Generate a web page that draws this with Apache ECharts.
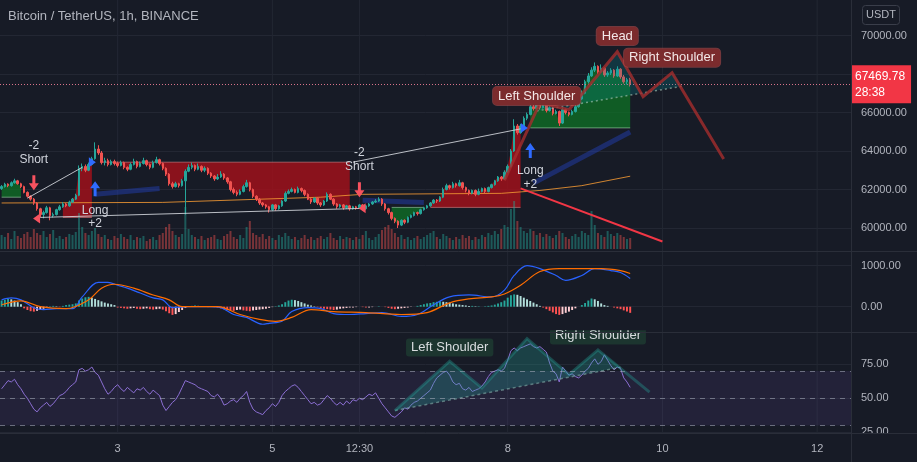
<!DOCTYPE html>
<html><head><meta charset="utf-8">
<script src="https://cdn.jsdelivr.net/npm/echarts@6/dist/echarts.min.js"></script>
<style>html,body{margin:0;padding:0;background:#171b26;}#c{width:917px;height:462px;}</style>
</head><body><div id="c"></div>
<script>
const title = 'Bitcoin / TetherUS, 1h, BINANCE';
const currency = 'USDT';
const countdown = '28:38';
const slotCount = 264;
const tickIdx = [36, 84, 111, 157, 205, 253];
const tickText = ['3', '5', '12:30', '8', '10', '12'];

// [open, close, low, high]
const candles = [
[62050,62150,61980,62230],[62150,62280,62100,62350],[62280,62200,62120,62320],[62200,62350,62150,62420],[62350,62450,62300,62560],
[62450,62300,62250,62500],[62300,62150,62080,62350],[62150,61850,61800,62200],[61850,61650,61580,61900],[61650,61500,61420,61700],
[61500,61300,61200,61560],[61300,61000,60900,61350],[61000,60700,60550,61050],[60700,60800,60500,60900],[60800,61050,60750,61150],
[61050,60650,60400,61100],[60650,60700,60550,60800],[60700,60950,60650,61000],[60950,61100,60900,61200],[61100,61250,61050,61350],
[61250,61150,61080,61300],[61150,61350,61100,61420],[61350,61500,61300,61560],[61500,61700,61450,61780],[61700,63100,61650,63250],
[63100,63200,62950,63350],[63200,63000,62900,63300],[63000,63300,62950,63400],[63300,63600,63250,63700],[63600,64100,63550,64450],
[64100,63900,63800,64300],[63900,63400,63300,64000],[63400,63500,63250,63650],[63500,63300,63200,63600],[63300,63450,63250,63550],
[63450,63350,63250,63550],[63350,63250,63150,63450],[63250,63400,63200,63500],[63400,63150,63050,63450],[63150,63050,62950,63200],
[63050,63300,63000,63400],[63300,63450,63250,63600],[63450,63200,63100,63500],[63200,63350,63150,63450],[63350,63500,63300,63650],
[63500,63300,63200,63550],[63300,63150,63050,63350],[63150,63400,63100,63500],[63400,63550,63350,63700],[63550,63350,63250,63600],
[63350,63100,63000,63400],[63100,62800,62700,63150],[62800,62300,62200,62850],[62300,62150,62050,62400],[62150,62300,62100,62400],
[62300,62200,62100,62350],[62200,62450,62150,62550],[62450,62950,60700,63050],[62950,63150,62900,63300],[63150,63250,63050,63400],
[63250,63050,62950,63300],[63050,63200,63000,63350],[63200,63000,62900,63250],[63000,63100,62900,63200],[63100,62850,62750,63150],
[62850,62700,62600,62900],[62700,62550,62450,62750],[62550,62650,62500,62800],[62650,62800,62600,62950],[62800,62600,62500,62850],
[62600,62400,62300,62650],[62400,62000,61900,62450],[62000,61850,61750,62100],[61850,61750,61650,61950],[61750,61900,61700,62000],
[61900,62150,61850,62250],[62150,62350,62100,62500],[62350,62000,61900,62400],[62000,61650,61550,62050],[61650,61500,61400,61700],
[61500,61300,61200,61550],[61300,61200,61100,61350],[61200,61100,61000,61250],[61100,60950,60800,61150],[60950,61200,60900,61250],
[61200,61000,60900,61250],[61000,61150,60950,61200],[61150,61400,61100,61450],[61400,61800,61350,61900],[61800,61900,61750,62000],
[61900,62000,61850,62100],[62000,61850,61800,62050],[61850,62050,61800,62150],[62050,61950,61850,62100],[61950,61750,61650,62000],
[61750,61500,61450,61800],[61500,61350,61250,61550],[61350,61550,61300,61600],[61550,61300,61200,61600],[61300,61200,61100,61350],
[61200,61400,61150,61450],[61400,61750,61350,61850],[61750,61500,61450,61800],[61500,61250,61150,61550],[61250,61100,61000,61300],
[61100,61200,61050,61250],[61200,61050,60950,61250],[61050,61150,61000,61200],[61150,61000,60900,61200],[61000,61100,60950,61150],
[61100,61050,60950,61150],[61050,61200,61000,61250],[61200,61000,60900,61250],[61000,61150,60950,61200],[61150,61250,61100,61300],
[61250,61350,61200,61400],[61350,61400,61300,61500],[61400,61500,61350,61600],[61500,61250,61150,61550],[61250,61000,60900,61300],
[61000,60800,60700,61050],[60800,60500,60400,60850],[60500,60350,60250,60550],[60350,60150,60000,60400],[60150,60400,60100,60450],
[60400,60300,60200,60450],[60300,60550,60250,60600],[60550,60650,60500,60700],[60650,60800,60600,60850],[60800,60750,60650,60850],
[60750,60950,60700,61000],[60950,61050,60900,61100],[61050,61150,61000,61200],[61150,61300,61100,61350],[61300,61450,61250,61500],
[61450,61400,61300,61500],[61400,61600,61350,61650],[61600,62000,61550,62100],[62000,62200,61950,62300],[62200,62100,62000,62250],
[62100,62300,62050,62400],[62300,62200,62100,62350],[62200,62350,62150,62500],[62350,62100,62000,62400],[62100,61950,61850,62150],
[61950,61800,61700,62000],[61800,61950,61750,62000],[61950,61750,61650,62000],[61750,61900,61700,62050],[61900,62050,61850,62100],
[62050,61900,61800,62100],[61900,62100,61850,62150],[62100,62250,62050,62300],[62250,62450,62200,62500],[62450,62650,62400,62700],
[62650,62550,62450,62700],[62550,62900,62500,63000],[62900,63200,62850,63300],[63200,64000,63150,64100],[64000,65300,63950,65650],
[65300,64950,64850,65400],[64950,65300,64900,65400],[65300,65700,65250,65800],[65700,65900,65600,66000],[65900,66300,65850,66450],
[66300,66200,66100,66400],[66200,66400,66150,66550],[66400,66250,66150,66450],[66250,66500,66200,66600],[66500,66100,66000,66550],
[66100,66250,66050,66350],[66250,65950,65850,66300],[65950,66050,65900,66150],[66050,65450,65300,66100],[65450,66150,65400,66250],
[66150,66000,65900,66200],[66000,65900,65800,66050],[65900,66050,65850,66150],[66050,66300,66000,66400],[66300,66700,66250,66800],
[66700,67000,66650,67150],[67000,67600,66950,67700],[67600,67900,67500,68050],[67900,68200,67850,68350],[68200,68400,68100,68600],
[68400,68100,68000,68450],[68100,68300,68050,68500],[68300,67950,67850,68350],[67950,68050,67850,68150],[68050,68200,67950,68300],
[68200,67900,67800,68250],[67900,68250,67850,68400],[68250,67850,67750,68300],[67850,67600,67500,67950],[67600,67700,67450,67800],
[67700,67469.78,67350,67800]
];

const volumes = [
14,12,16,10,18,13,11,15,17,12, 20,16,14,18,12,15,19,11,13,10,
12,15,14,17,36,22,16,14,18,21, 15,12,14,10,9,13,11,15,12,10,
14,9,12,11,13,8,10,12,9,14, 16,22,25,18,14,12,15,42,20,14,
12,10,13,9,11,12,14,10,9,13, 15,18,12,10,14,11,22,28,16,14,
12,15,10,13,11,9,14,12,16,13, 10,12,9,11,14,10,12,9,11,13,
10,12,16,11,9,13,10,12,11,9, 12,10,14,18,11,9,12,15,19,22,
24,20,16,12,14,10,12,9,11,13, 10,12,14,16,18,12,10,15,13,11,
9,12,10,14,11,13,9,12,10,14, 12,16,14,18,15,20,24,22,40,48,
28,22,18,16,20,18,14,16,12,15, 13,11,14,18,16,12,10,13,15,12,
18,16,14,38,24,16,14,12,18,15, 13,16,14,12,10,11
];

// MACD key points [barIndex, value]
const macdPts = [[0,167],[3,214],[6,167],[10,-24],[13,-71],[17,-48],[22,-48],[25,238],[30,595],[33,595],[36,524],[39,452],[43,333],[47,214],[50,167],[53,-24],[58,0],[64,0],[68,-24],[72,-190],[76,-262],[81,-428],[83,-405],[87,-357],[90,-119],[95,-24],[99,-48],[103,-167],[108,-190],[113,-167],[118,-143],[124,-238],[129,-190],[134,48],[139,238],[145,286],[152,238],[156,405],[159,762],[163,1000],[167,929],[172,762],[175,643],[180,762],[184,929],[189,881],[192,833],[195,690]];
const signalPts = [[0,48],[6,143],[12,0],[20,-48],[27,167],[31,452],[35,548],[41,452],[47,286],[52,167],[56,0],[67,0],[74,-190],[80,-310],[85,-357],[90,-262],[96,-71],[103,-119],[113,-143],[124,-190],[132,-143],[139,95],[145,190],[152,238],[156,310],[161,524],[167,857],[173,929],[180,929],[186,929],[192,881],[195,810]];
const histVals = [
150,170,190,180,150,110,60,
-40,-80,-110,-120,-100,-80,-50,-20,
10,20,10,-10,
20,40,50,60,80,
150,200,230,240,220,190,160,130,
100,80,60,40,
-20,-30,-40,-50,-40,-30,-50,-60,-50,-40,-60,-70,-60,-50,-70,
-110,-160,-200,-180,-130,-80,
-30,10,20,30,20,10,0,-10,0,-10,
-20,-40,-60,-80,-90,-100,-80,-70,-90,-100,-110,-90,-80,-70,-60,-50,
-30,-10,10,30,
60,110,150,170,160,140,110,80,50,30,
10,-10,-30,-50,-60,-70,
-80,-70,-50,-40,
-30,-20,-20,-10,0,-10,-20,-20,-10,0,10,0,-10,-30,-50,-60,-50,-40,-30,-20,-10,0,
20,40,60,80,90,110,120,130,120,110,100,
80,60,50,40,30,20,20,10,10,0,10,20,30,50,80,110,
150,220,280,300,290,260,220,180,140,100,60,
20,-20,-60,-100,-140,-180,-200,-180,-150,-120,
-80,-40,0,40,90,150,200,180,140,80,
40,20,0,-20,-40,-60,-90,-120,-150
];
const rsiVals = [
57,60,63,62,64,60,57,53,50,46, 42,40,43,45,47,44,46,49,52,53,
55,58,60,62,71,72,70,71,73,69, 67,62,57,53,55,58,60,57,55,58,
56,54,57,56,58,55,53,56,54,52, 45,41,44,47,49,53,58,63,62,61,
60,58,57,56,55,52,51,53,50,45, 46,48,49,47,50,52,55,47,42,40,
39,38,41,43,46,44,47,52,55,57, 59,60,58,55,52,49,46,47,45,46,
49,52,50,47,45,47,45,48,46,49, 48,50,49,51,53,52,54,50,46,43,
40,37,36,38,40,43,42,45,47,48, 50,52,54,56,61,65,67,69,70,67,
62,60,61,57,56,58,55,56,57,59, 62,66,69,70,71,70,72,78,85,87,
85,87,88,89,90,88,87,88,86,84, 76,70,68,62,73,70,67,68,66,65,
67,70,72,76,79,75,77,82,78,74, 71,73,72,65,62,58
];

// strategy zones [fromBar, toBar, level]
const zones = [[0,6,61600],[19,28,60550],[31,108,63420],[121,131,61070],[133,161,61070],[164,195,65200]];
const zoneKinds = ['g','r','r','g','r','g'];
const emaLine = [[0,61300],[50,61330],[99,61600],[112,61750],[155,61800],[167,61950],[180,62200],[195,62690]];
const blueBands = [[[29,61750],[49,62050]],[[112,61440],[131,61330]],[[165,62330],[195,64990]]];
const tradeLines = [[[8,61550],[25,63150]],[[12,60550],[112,61020]],[[109,63420],[161,65150]]];
const redTrend = [[161,62060],[205,59300]];
const hsMain = [[156,62480],[167,66500],[176,66140],[191,69160],[199,66820],[208,68070],[224,63580]];
const hsMainFill = [[166,66080],[167,66500],[176,66140],[191,69160],[199,66820],[208,68070],[211,67360]];
const hsMainNeck = [[166,66080],[211,67360]];
const hsMainLabels = [[166,66860,'Left Shoulder'],[191,69970,'Head'],[208,68850,'Right Shoulder']];
const shortMarks = [[10,61960,64260,63530],[111,61600,63890,63160]];
const longMarks = [[29,62430,60920,60240],[164,64420,63000,62270]];
const triMarks = [[28,63420,'R'],[162,65200,'R'],[11,60500,'L'],[112,61020,'L']];
const hsRsi = [[122,41],[139,77.3],[149,57.6],[163,93.9],[176,67.4],[185,85.6],[201,54.5]];
const hsRsiFill = [[122,41],[139,77.3],[149,57.6],[163,93.9],[176,67.4],[185,85.6],[192,72.8]];
const hsRsiNeck = [[122,41],[192,72.8]];
const hsRsiLabels = [[139,87.4,'Left Shoulder'],[185,96.2,'Right Shoulder']];

const chart = echarts.init(document.getElementById('c'), null, {renderer: 'canvas'});
const cats = Array.from({length: slotCount}, (_, i) => String(i));
const GRID = '#232733', SEP = '#2a2e39', TXT = '#b2b5be', FONT = 'Liberation Sans';
const UP = '#26a69a', DOWN = '#ef5350';
const lastPrice = candles[candles.length - 1][1];
const lblStyle = {color: TXT, fontSize: 11, fontFamily: FONT};

function xAx(gi, labels) {
  return {type: 'category', gridIndex: gi, data: cats, boundaryGap: true,
    axisLine: {show: false}, axisTick: {show: false}, splitLine: {show: false},
    axisLabel: labels ? Object.assign({}, lblStyle, {margin: 11,
      interval: (idx) => tickIdx.includes(idx),
      formatter: (v) => { const k = tickIdx.indexOf(Number(v)); return k >= 0 ? tickText[k] : ''; }}) : {show: false}};
}
function yAx(gi, min, max, interval, opts) {
  opts = opts || {};
  return {type: 'value', gridIndex: gi, position: 'right', min, max, interval,
    show: opts.hidden ? false : true,
    axisLine: {show: false}, axisTick: {show: false},
    axisLabel: Object.assign({}, lblStyle, {margin: 10, showMinLabel: opts.minLabel || false, showMaxLabel: false,
      formatter: (v) => v.toFixed(2)}),
    splitLine: {show: !opts.hidden, lineStyle: {color: GRID, width: 1}, showMinLine: opts.minLine || false, showMaxLine: false}};
}
const gridBase = {left: 0, right: 66, outerBoundsMode: 'none', containLabel: false};

function P(api, arr) { return arr.map(p => api.coord(p)); }

function underLayer(params, api) {
  const ch = [];
  zones.forEach((z, k) => {
    const [i0, i1, level] = z;
    const pts = [];
    for (let i = i0; i <= i1; i++) pts.push(api.coord([i, candles[i][1]]));
    const a = api.coord([i1, level]), b = api.coord([i0, level]);
    pts.push(a); pts.push(b);
    const red = zoneKinds[k] === 'r';
    ch.push({type: 'polygon', shape: {points: pts}, style: {fill: red ? 'rgba(168,16,26,0.8)' : 'rgba(14,118,38,0.72)'}});
    ch.push({type: 'line', shape: {x1: b[0], y1: b[1], x2: a[0], y2: a[1]},
      style: {stroke: red ? 'rgba(255,170,170,0.45)' : 'rgba(190,240,200,0.5)', lineWidth: 1}});
  });
  blueBands.forEach(l => {
    const a = api.coord(l[0]), b = api.coord(l[1]);
    ch.push({type: 'line', shape: {x1: a[0], y1: a[1], x2: b[0], y2: b[1]}, style: {stroke: 'rgba(36,70,200,0.42)', lineWidth: 5}});
  });
  ch.push({type: 'polyline', shape: {points: P(api, emaLine)}, style: {stroke: 'rgba(240,150,50,0.85)', lineWidth: 1, fill: null}});
  return {type: 'group', children: ch};
}

function textEl(x, y, t, size) {
  return {type: 'text', x, y, style: {text: t, fill: '#d1d4dc', fontSize: size || 12, fontFamily: FONT, align: 'center', verticalAlign: 'middle'}};
}

function topLayer(params, api) {
  const ch = [];
  tradeLines.forEach(l => {
    const a = api.coord(l[0]), b = api.coord(l[1]);
    ch.push({type: 'line', shape: {x1: a[0], y1: a[1], x2: b[0], y2: b[1]}, style: {stroke: 'rgba(215,218,225,0.85)', lineWidth: 1}});
  });
  const r = P(api, redTrend);
  ch.push({type: 'line', shape: {x1: r[0][0], y1: r[0][1], x2: r[1][0], y2: r[1][1]}, style: {stroke: '#f23645', lineWidth: 2}});
  ch.push({type: 'polygon', shape: {points: P(api, hsMainFill)}, style: {fill: 'rgba(0,150,165,0.22)'}});
  const nk = P(api, hsMainNeck);
  ch.push({type: 'line', shape: {x1: nk[0][0], y1: nk[0][1], x2: nk[1][0], y2: nk[1][1]}, style: {stroke: 'rgba(170,200,185,0.6)', lineWidth: 1.5, lineDash: [2, 3]}});
  ch.push({type: 'polyline', shape: {points: P(api, hsMain)}, style: {stroke: 'rgba(165,45,45,0.8)', lineWidth: 3, fill: null}});
  hsMainLabels.forEach(([i, p, t]) => {
    const c = api.coord([i, p]);
    ch.push({type: 'text', x: c[0], y: c[1], style: {text: t, fill: '#f3e7e7', fontSize: 13, fontFamily: FONT, align: 'center', verticalAlign: 'middle',
      backgroundColor: '#7b2b2d', borderColor: 'rgba(190,80,80,0.55)', borderWidth: 1, borderRadius: 4, padding: [3, 5, 2, 5]}});
  });
  shortMarks.forEach(([i, tip, t1, t2]) => {
    const c = api.coord([i, tip]), x = c[0], y = c[1];
    ch.push({type: 'polygon', shape: {points: [[x-1.5,y-15],[x+1.5,y-15],[x+1.5,y-7],[x+5,y-7],[x,y],[x-5,y-7],[x-1.5,y-7]]}, style: {fill: '#f7525f'}});
    const a = api.coord([i, t1]), b = api.coord([i, t2]);
    ch.push(textEl(a[0], a[1], '-2'));
    ch.push(textEl(b[0], b[1], 'Short'));
  });
  longMarks.forEach(([i, tip, t1, t2]) => {
    const c = api.coord([i, tip]), x = c[0], y = c[1];
    ch.push({type: 'polygon', shape: {points: [[x-1.5,y+15],[x+1.5,y+15],[x+1.5,y+7],[x+5,y+7],[x,y],[x-5,y+7],[x-1.5,y+7]]}, style: {fill: '#2f6bff'}});
    const a = api.coord([i, t1]), b = api.coord([i, t2]);
    ch.push(textEl(a[0], a[1], 'Long'));
    ch.push(textEl(b[0], b[1], '+2'));
  });
  triMarks.forEach(([i, p, d]) => {
    const c = api.coord([i, p]), x = c[0], y = c[1];
    const pts = d === 'R' ? [[x-3,y-5],[x+4,y],[x-3,y+5]] : [[x+3,y-5],[x-4,y],[x+3,y+5]];
    ch.push({type: 'polygon', shape: {points: pts}, style: {fill: d === 'R' ? '#2f6bff' : '#f7525f'}});
  });
  return {type: 'group', children: ch};
}

function rsiLayer(params, api) {
  const ch = [];
  ch.push({type: 'polygon', shape: {points: P(api, hsRsiFill)}, style: {fill: 'rgba(38,166,154,0.28)'}});
  const nk = P(api, hsRsiNeck);
  ch.push({type: 'line', shape: {x1: nk[0][0], y1: nk[0][1], x2: nk[1][0], y2: nk[1][1]}, style: {stroke: 'rgba(150,200,190,0.5)', lineWidth: 1.5, lineDash: [3, 3]}});
  ch.push({type: 'polyline', shape: {points: P(api, hsRsi)}, style: {stroke: 'rgba(38,166,154,0.35)', lineWidth: 3, fill: null}});
  hsRsiLabels.forEach(([i, v, t]) => {
    const c = api.coord([i, v]);
    ch.push({type: 'text', x: c[0], y: c[1], style: {text: t, fill: '#d8dcdf', fontSize: 13, fontFamily: FONT, align: 'center', verticalAlign: 'middle',
      backgroundColor: '#1c352f', borderRadius: 3, padding: [3, 5, 2, 5]}});
  });
  return {type: 'group', children: ch};
}

function vLines(params, api) {
  const c = api.coord([api.value(0), 0]);
  const cs = params.coordSys;
  return {type: 'line', shape: {x1: c[0], y1: cs.y, x2: c[0], y2: cs.y + cs.height}, style: {stroke: GRID, lineWidth: 1}};
}

const histColors = histVals.map((v, i) => {
  const p = i > 0 ? histVals[i - 1] : v;
  if (v >= 0) return v >= p ? '#26a69a' : '#b2dfdb';
  return v < p ? '#ff5252' : '#ffcdd2';
});

const option = {
  backgroundColor: '#171b26',
  animation: false,
  grid: [
    Object.assign({top: -3, height: 269.5}, gridBase),
    Object.assign({top: 189, height: 60}, gridBase),
    Object.assign({top: 224.7, height: 123}, gridBase),
    Object.assign({top: 330.3, height: 102}, gridBase),
    Object.assign({top: 0, height: 433}, gridBase)
  ],
  xAxis: [xAx(0, false), xAx(1, false), xAx(2, false), xAx(3, true), xAx(4, false)],
  yAxis: [
    yAx(0, 58000, 72000, 2000),
    yAx(1, 0, 60, 20, {hidden: true}),
    yAx(2, -1000, 2000, 1000),
    yAx(3, 25, 100, 25, {minLabel: true, minLine: true}),
    yAx(4, 0, 1, 1, {hidden: true})
  ],
  series: [
    {type: 'custom', xAxisIndex: 4, yAxisIndex: 4, z: 0, silent: true, data: tickIdx.map(i => [i, 0]), renderItem: vLines},
    {type: 'custom', xAxisIndex: 0, yAxisIndex: 0, z: 1, silent: true, data: [[0, 60000]], renderItem: underLayer},
    {type: 'bar', xAxisIndex: 1, yAxisIndex: 1, z: 1, silent: true, barWidth: '62%',
      data: volumes.map((v, i) => ({value: v, itemStyle: {color: candles[i][1] >= candles[i][0] ? 'rgba(38,166,154,0.45)' : 'rgba(239,83,80,0.45)'}}))},
    {type: 'candlestick', xAxisIndex: 0, yAxisIndex: 0, z: 3, silent: true, data: candles, barWidth: '62%',
      itemStyle: {color: UP, color0: DOWN, borderColor: UP, borderColor0: DOWN, borderWidth: 1},
      markLine: {silent: true, symbol: ['none', 'none'], data: [{yAxis: lastPrice}],
        lineStyle: {type: [1, 2], color: '#d9738a', width: 1},
        label: {show: true, position: 'end', distance: 0, formatter: () => lastPrice.toFixed(2) + '\n' + countdown,
          backgroundColor: '#f23645', color: '#ffffff', padding: [3, 6, 3, 4], fontSize: 12, lineHeight: 16, fontFamily: FONT, align: 'left'}}},
    {type: 'custom', xAxisIndex: 0, yAxisIndex: 0, z: 5, silent: true, data: [[0, 60000]], renderItem: topLayer},
    {type: 'bar', xAxisIndex: 2, yAxisIndex: 2, z: 2, silent: true, barWidth: '60%',
      data: histVals.map((v, i) => ({value: v, itemStyle: {color: histColors[i]}}))},
    {type: 'line', xAxisIndex: 2, yAxisIndex: 2, z: 3, silent: true, data: macdPts, showSymbol: false, smooth: 0.35, lineStyle: {color: '#2962ff', width: 1.2}},
    {type: 'line', xAxisIndex: 2, yAxisIndex: 2, z: 3, silent: true, data: signalPts, showSymbol: false, smooth: 0.35, lineStyle: {color: '#ff6d00', width: 1.2}},
    {type: 'line', xAxisIndex: 3, yAxisIndex: 3, z: 3, silent: true, data: rsiVals, showSymbol: false, lineStyle: {color: '#8c6fd4', width: 1},
      markArea: {silent: true, itemStyle: {color: 'rgba(126,87,194,0.12)'}, data: [[{yAxis: 30}, {yAxis: 70}]]},
      markLine: {silent: true, symbol: ['none', 'none'], label: {show: false}, lineStyle: {color: 'rgba(170,174,190,0.55)', type: [5, 5], width: 1},
        data: [{yAxis: 70}, {yAxis: 50}, {yAxis: 30}]}},
    {type: 'custom', xAxisIndex: 3, yAxisIndex: 3, z: 4, silent: true, clip: true, data: [[0, 50]], renderItem: rsiLayer}
  ],
  graphic: [
    {type: 'line', z: 50, shape: {x1: 0, y1: 251.5, x2: 917, y2: 251.5}, style: {stroke: SEP, lineWidth: 1}},
    {type: 'line', z: 50, shape: {x1: 0, y1: 332.5, x2: 917, y2: 332.5}, style: {stroke: SEP, lineWidth: 1}},
    {type: 'rect', z: 60, shape: {x: 851, y: 433, width: 66, height: 29}, style: {fill: '#171b26'}},
    {type: 'line', z: 61, shape: {x1: 0, y1: 433.5, x2: 917, y2: 433.5}, style: {stroke: SEP, lineWidth: 1}},
    {type: 'line', z: 61, shape: {x1: 851.5, y1: 0, x2: 851.5, y2: 462}, style: {stroke: SEP, lineWidth: 1}},
    {type: 'text', z: 70, x: 8, y: 16, style: {text: title, fill: '#b2b5be', fontSize: 13, fontFamily: FONT, verticalAlign: 'middle'}},
    {type: 'rect', z: 70, shape: {x: 862.5, y: 5.5, width: 37, height: 19, r: 3}, style: {fill: 'none', stroke: '#3a3e4a', lineWidth: 1}},
    {type: 'text', z: 71, x: 881, y: 15, style: {text: currency, fill: '#b2b5be', fontSize: 11, fontFamily: FONT, align: 'center', verticalAlign: 'middle'}}
  ]
};
chart.setOption(option);
</script>
</body></html>
